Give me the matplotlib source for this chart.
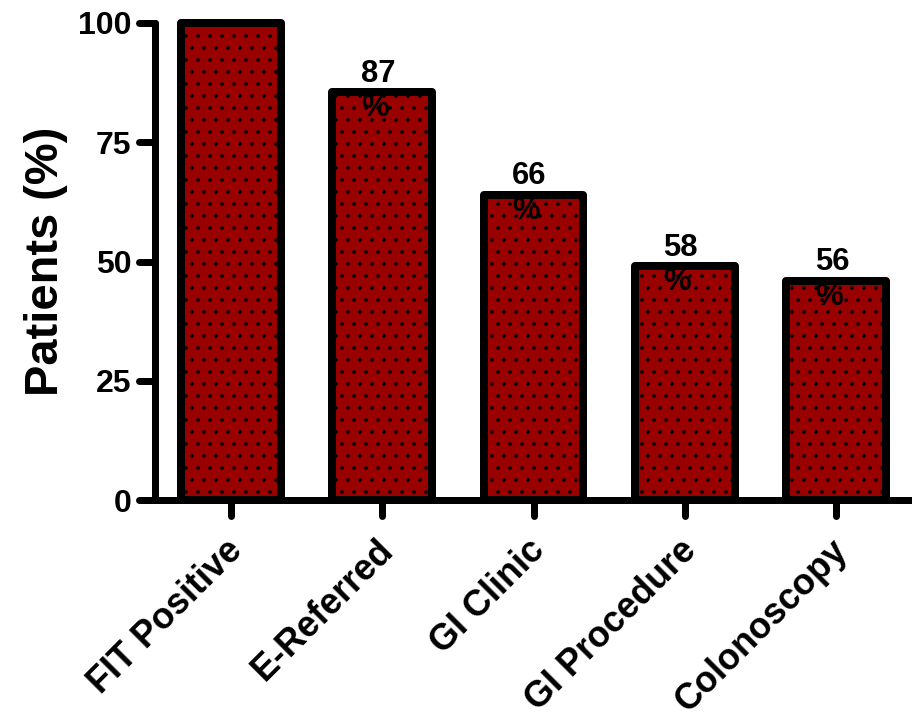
import matplotlib
matplotlib.use("Agg")
import matplotlib.pyplot as plt
from matplotlib.markers import MarkerStyle, TICKDOWN, TICKLEFT
from matplotlib.transforms import ScaledTranslation

categories = ["FIT Positive", "E-Referred", "GI Clinic", "GI Procedure", "Colonoscopy"]
values = [100, 85.5, 64, 49, 46]
value_labels = ["", "87\n%", "66\n%", "58\n%", "56\n%"]
yticks = [0, 25, 50, 75, 100]

plt.rcParams['font.family'] = ['Liberation Sans', 'DejaVu Sans']
plt.rcParams['font.weight'] = 'bold'
plt.rcParams['hatch.linewidth'] = 1.2

W, H, DPI = 912, 721, 72
fig = plt.figure(figsize=(W / DPI, H / DPI), dpi=DPI)
ax = fig.add_axes([155.4 / W, 221 / H, 756.2 / W, 477 / H])

x = list(range(len(categories)))
bars = ax.bar(x, values, width=0.66, color='#990000', edgecolor='black',
              linewidth=8, hatch='.', clip_on=False, zorder=3)
for b in bars:
    b.set_joinstyle('round')

for i, (v, lab) in enumerate(zip(values, value_labels)):
    if lab:
        ax.text(i - 0.14, v + 7, lab, ha='left', va='top', multialignment='left',
                fontsize=31, fontweight='bold', zorder=5)

ax.set_xlim(-0.5, 4.5)
ax.set_ylim(0, 100)
ax.set_yticks(yticks)
ax.set_xticks(x)
ax.set_xticklabels(categories, rotation=45, ha='right', va='center',
                   rotation_mode='anchor', fontsize=36, fontweight='bold')
ax.tick_params(axis='y', labelsize=32, length=16, width=7, pad=8, direction='out')
ax.tick_params(axis='x', length=16, width=7, pad=29, direction='out')
shift = ScaledTranslation(6 / DPI, 0, fig.dpi_scale_trans)
for lab in ax.get_xticklabels():
    lab.set_transform(lab.get_transform() + shift)
for t in ax.xaxis.get_major_ticks():
    t.tick1line.set_marker(MarkerStyle(TICKDOWN, capstyle='round'))
for t in ax.yaxis.get_major_ticks():
    t.tick1line.set_marker(MarkerStyle(TICKLEFT, capstyle='round'))
for lab in ax.get_yticklabels():
    lab.set_fontweight('bold')

for s in ['top', 'right']:
    ax.spines[s].set_visible(False)
for s in ['left', 'bottom']:
    ax.spines[s].set_linewidth(7)
    ax.spines[s].set_capstyle('round')

ax.set_ylabel("Patients (%)", fontsize=47, fontweight='bold', labelpad=10)

fig.savefig("out.png", dpi=DPI)
